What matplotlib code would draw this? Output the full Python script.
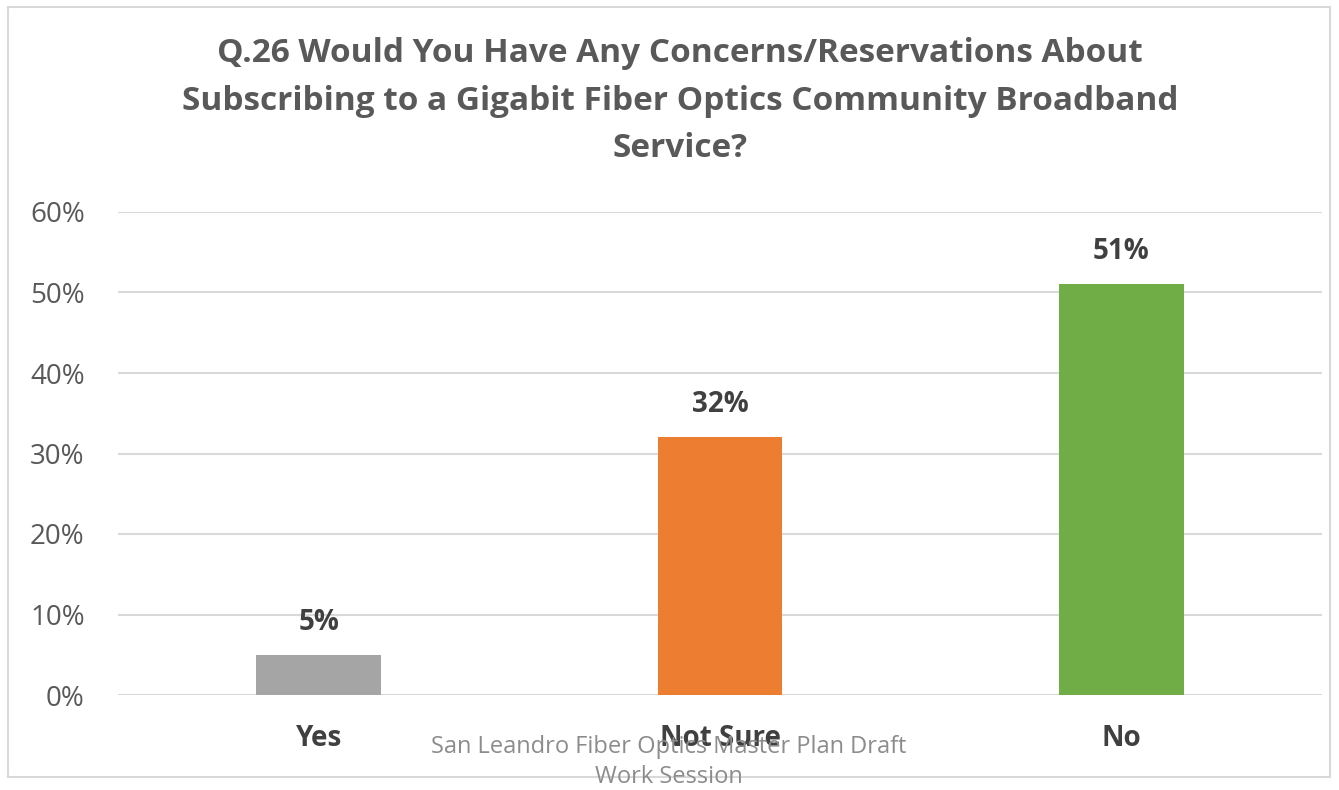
import matplotlib
matplotlib.use('Agg')
import matplotlib.pyplot as plt
from matplotlib.patches import Rectangle
import numpy as np

# Q.26 survey answers
categories = ['Yes', 'Not Sure', 'No']
shares = [5, 32, 51]
bar_colors = ['#A5A5A5', '#ED7D31', '#70AD47']
y_ticks = [0, 10, 20, 30, 40, 50, 60]

TITLE = ('Q.26 Would You Have Any Concerns/Reservations About\n'
         'Subscribing to a Gigabit Fiber Optics Community Broadband\n'
         'Service?')
FOOTER = 'San Leandro Fiber Optics Master Plan Draft\nWork Session'

plt.rcParams['font.family'] = ['Open Sans', 'DejaVu Sans']

fig = plt.figure(figsize=(13.39, 7.9), dpi=100)
W, H = 1339, 790

# outer chart frame
fig.patches.append(Rectangle((8 / W, 1 - 777 / H), 1322 / W, 770 / H,
                             transform=fig.transFigure, fill=False,
                             edgecolor='#D9D9D9', linewidth=1.5))

ax = fig.add_axes([118 / W, 1 - 695 / H, 1204 / W, 483 / H])
x = np.arange(len(categories))
bars = ax.bar(x, shares, width=0.31, color=bar_colors, zorder=3)

ax.set_xlim(-0.5, len(categories) - 0.5)
ax.set_ylim(0, 60)
ax.set_yticks(y_ticks)
ax.set_yticklabels([f'{v}%' for v in y_ticks], fontsize=20, color='#595959')
ax.set_xticks(x)
ax.set_xticklabels(categories, fontsize=20, fontweight='bold', color='#404040')
ax.tick_params(axis='both', length=0)
ax.tick_params(axis='y', pad=24)
ax.tick_params(axis='x', pad=21)
ax.grid(axis='y', color='#D9D9D9', linewidth=1.5, zorder=0)
for s in ax.spines.values():
    s.set_visible(False)

for bar, val in zip(bars, shares):
    ax.annotate(f'{val}%', (bar.get_x() + bar.get_width() / 2, val),
                xytext=(0, 13), textcoords='offset points',
                ha='center', va='bottom', fontsize=20, fontweight='bold',
                color='#404040')

fig.text(680 / W, 1 - 101 / H, TITLE, ha='center', va='center',
         fontsize=24, fontweight='bold', color='#595959', linespacing=1.58)

fig.text(669 / W, 1 - 762 / H, FOOTER, ha='center', va='center',
         fontsize=17, color='#8C8C8C', linespacing=1.35)

fig.savefig('out.png', dpi=100)
